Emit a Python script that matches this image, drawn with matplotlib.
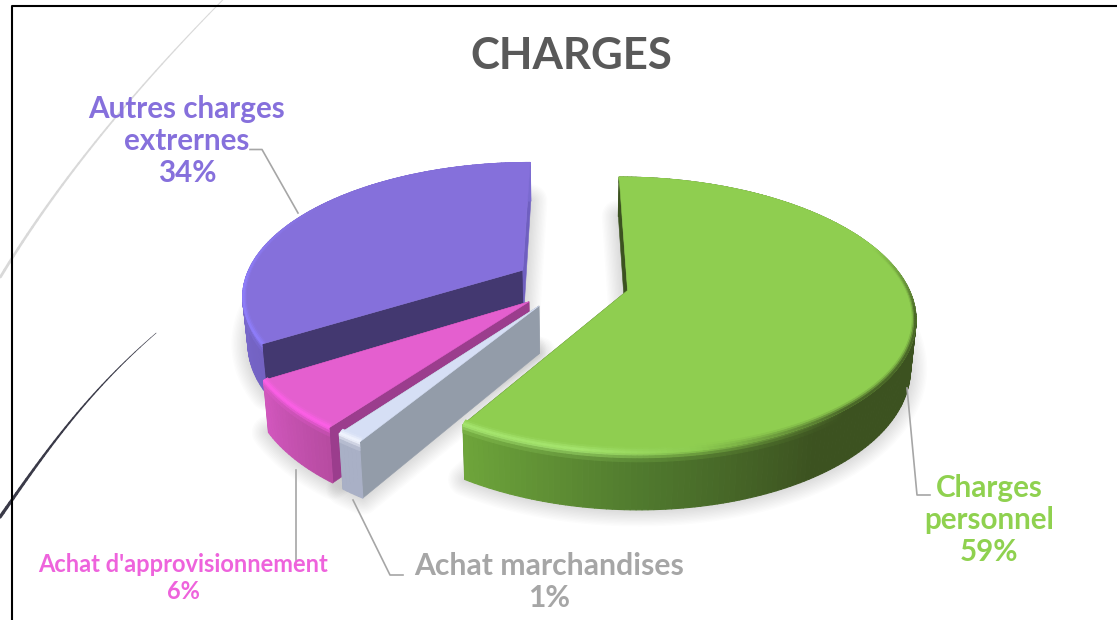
#Exploded 3D pie "CHARGES", drawn by hand because matplotlib has no perspective pie
import numpy as np
import matplotlib.pyplot as plt
from matplotlib.colors import to_rgb
from matplotlib.collections import PolyCollection
from matplotlib.patches import Polygon

#Step 1: the data, clockwise from north
categories = ['Charges\npersonnel', 'Achat marchandises', "Achat d'approvisionnement", 'Autres charges\nextrernes']
values = [58.8, 1.3, 6.0, 33.9]
title = 'CHARGES'

#Step 2: colours of each slice
top_colors = ['#8FCE50', '#D6DFF5', '#E45FCF', '#8570DB']
text_colors = ['#8FD14F', '#A6A6A6', '#EE63DC', '#8670DC']
face_a = ['#3C5220', '#939CA9', '#9B3D8D', '#433870']
face_b = ['#3C5220', '#939CA9', '#9B3D8D', '#6F5FC0']
wall_stops = [[(90, '#3C5220'), (148, '#3C5220'), (180, '#507A2E'), (212, '#6FA63B')],
              [(212, '#A9B0C6'), (216, '#A9B0C6')],
              [(216, '#B64BA0'), (238, '#D257BE')],
              [(238, '#7362C2'), (280, '#7A6AD0')]]
rim_stops = [[(70, '#8FCE50'), (100, '#3C5220'), (140, '#3C5220'), (170, '#8CCB50'), (190, '#A8E873'), (212, '#A8E873')],
             [(212, '#F4F7FF'), (216, '#F4F7FF')],
             [(216, '#FF5FEA'), (238, '#FF5FEA')],
             [(238, '#9080FF'), (265, '#9080FF'), (305, '#8570DB')]]
#the two small slices look a bit shorter because of their rounded corners
slice_radius = [1.0, 0.975, 0.975, 1.0]

#Step 3: the projection of the disc (radius 1) on the picture
VX, VY = 572, 283
RX, RY = 279, 131
P = 0.1775
DEPTH = 46
EXPLODE = 0.205

def project(X, Y, z=0.0):
    den = 1 + P * Y
    x = VX + RX * X / den
    y = VY - RY * Y / den
    x = VX + (x - VX) * (1 - 0.016 * z)
    return np.column_stack([x, y + DEPTH * z / den])

def ramp(stops, a):
    angles = [s[0] for s in stops]
    rgb = np.array([to_rgb(s[1]) for s in stops])
    return np.column_stack([np.interp(a, angles, rgb[:, i]) for i in range(3)])

def tapered(px, py, w0, w1, color):
    #decorative curve: smooth fit through the points read, getting thicker towards the end
    fit = np.polyfit(py, px, 3)
    yy = np.linspace(py[0], py[-1], 40)
    xx = np.polyval(fit, yy)
    widths = np.linspace(w0, w1, 39)
    for k in range(39):
        ax.plot(xx[k:k + 2], yy[k:k + 2], color=color, lw=widths[k], solid_capstyle='round', zorder=1)

fig = plt.figure(figsize=(11.17, 6.2), dpi=100)
ax = fig.add_axes([0, 0, 1, 1])
ax.set_xlim(0, 1117)
ax.set_ylim(620, 0)
ax.axis('off')

#Step 4: the frame and the two decorative curves of the slide behind the chart
tapered([222, 170, 113, 60, 13, 0], [0, 58, 117, 190, 257, 277], 0.7, 2.0, '#D9D9D9')
tapered([156, 127, 77, 43, 12, 0], [333, 360, 413, 457, 500, 517], 0.4, 2.4, '#3A3A48')
ax.plot([11.5, 11.5, 1117], [620, 5.5, 5.5], color='black', lw=1.5, zorder=2)

edges = np.concatenate([[0], np.cumsum(values)]) / np.sum(values) * 360
slices = []
for i in range(len(values)):
    a0, a1 = edges[i], edges[i + 1]
    mid = np.radians((a0 + a1) / 2)
    slices.append((a0, a1, EXPLODE * np.sin(mid), EXPLODE * np.cos(mid), slice_radius[i]))

def ring(a, rx, ry, cx, cy):
    t = np.radians(a)
    return cx + rx * np.sin(t), cy + ry * np.cos(t)

#Step 5: soft shadow under every slice
for a0, a1, cx, cy, R in slices:
    a = np.linspace(a0, a1, 120)
    X, Y = ring(a, R, R, cx, cy)
    floor = project(np.r_[cx, X], np.r_[cy, Y], 1.0)
    for lw in np.linspace(2, 24, 12):
        ax.add_patch(Polygon(floor, closed=True, fill=False, edgecolor='black', lw=lw,
                             alpha=0.011, joinstyle='round', zorder=3))

#Step 6: slices from back to front
for n, i in enumerate([3, 2, 1, 0]):
    a0, a1, cx, cy, R = slices[i]
    z = 4 + n
    top = np.array(to_rgb(top_colors[i]))
    a = np.linspace(a0, a1, max(int(a1 - a0), 6))
    mids = (a[:-1] + a[1:]) / 2
    wall = ramp(wall_stops[i], mids)
    rim = ramp(rim_stops[i], mids)

    def quads(fx0, fy0, fx1, fy1, z0, z1):
        X0, Y0 = ring(a, R * fx0, R * fy0, cx, cy)
        X1, Y1 = ring(a, R * fx1, R * fy1, cx, cy)
        p0 = project(X0, Y0, z0)
        p1 = project(X1, Y1, z1)
        return [np.array([p0[k], p0[k + 1], p1[k + 1], p1[k]]) for k in range(len(a) - 1)]

    #the two cut faces go first, the outer wall hides what must not show
    for angle, color in [(a0, face_a[i]), (a1, face_b[i])]:
        Xo, Yo = ring(np.array([angle]), R, R, cx, cy)
        quad = np.vstack([project(np.r_[cx, Xo], np.r_[cy, Yo], 0.0),
                          project(np.r_[Xo, cx], np.r_[Yo, cy], 1.0)])
        ax.add_patch(Polygon(quad, closed=True, facecolor=color, edgecolor=color, lw=0.4, zorder=z))

    #outer wall, with the rounded top of the bevel
    ax.add_collection(PolyCollection(quads(1, 1, 1, 1, 0, 1), facecolors=wall, edgecolors='face', linewidths=0.8, zorder=z))
    for k in range(3):
        t = (k + 0.5) / 3
        ax.add_collection(PolyCollection(quads(1, 1, 1, 1, 0.05 * k, 0.05 * (k + 1)), facecolors=rim * (1 - t) + wall * t,
                                         edgecolors='face', linewidths=0.8, zorder=z))

    #top surface and its highlighted rim, about as wide on the sides as in front
    X, Y = ring(a, R, R, cx, cy)
    ax.add_patch(Polygon(project(np.r_[cx, X], np.r_[cy, Y]), closed=True, facecolor=top,
                         edgecolor=top, lw=0.4, zorder=z))
    fx = np.linspace(0.988, 1, 4)
    fy = np.linspace(0.97, 1, 4)
    for k in range(3):
        t = (k + 0.5) / 3
        ax.add_collection(PolyCollection(quads(fx[k], fy[k], fx[k + 1], fy[k + 1], 0, 0), facecolors=top * (1 - t) + rim * t,
                                         edgecolors='face', linewidths=0.6, zorder=z))

#Step 7: leader lines and labels
leaders = [([907, 917, 930], [388, 495, 495]),
           ([353, 390, 403], [500, 575, 575]),
           ([296, 296], [470, 560]),
           ([250, 262, 298], [149.5, 149.5, 213])]
for lx, ly in leaders:
    ax.plot(lx, ly, color='#A6A6A6', lw=1.2, zorder=12)

label_pos = [(989, 520), (549, 582), (183, 578), (187, 141)]
label_size = [21.3, 21.7, 17, 21.3]
label_space = [1.16, 1.16, 1.18, 1.16]
for i in range(len(values)):
    ax.text(label_pos[i][0], label_pos[i][1], '%s\n%.0f%%' % (categories[i], values[i]), color=text_colors[i],
            fontsize=label_size[i], fontweight='bold', family='Lato', ha='center', va='center',
            linespacing=label_space[i], zorder=13)
ax.text(571, 56, title, color='#595959', fontsize=31.5, fontweight='bold', family='Lato',
        ha='center', va='center', zorder=13)

fig.savefig('out.png', dpi=100)
